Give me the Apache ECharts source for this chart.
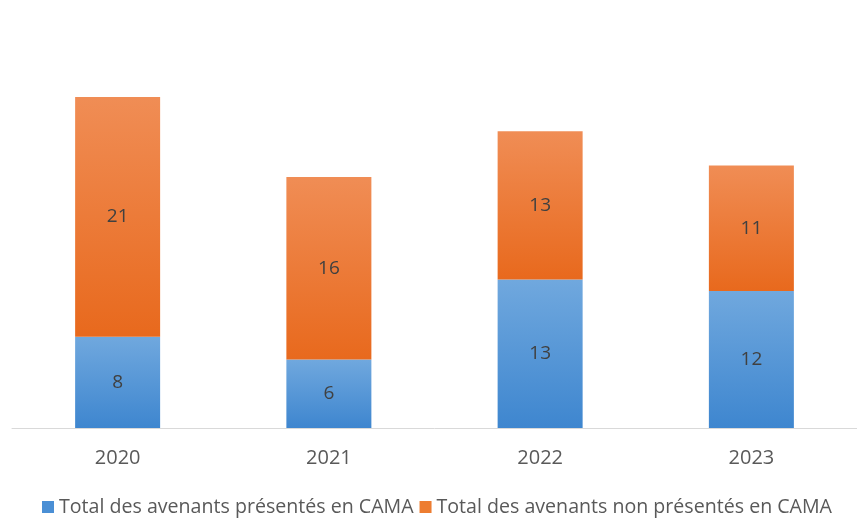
<!DOCTYPE html>
<html>
<head>
<meta charset="utf-8">
<script src="https://cdn.jsdelivr.net/npm/echarts@6/dist/echarts.min.js"></script>
<style>
html, body { margin: 0; padding: 0; background: #fff; }
#main { width: 857px; height: 519px; }
</style>
</head>
<body>
<div id="main"></div>
<script>
var years = ['2020', '2021', '2022', '2023'];
var presentes = [8, 6, 13, 12];
var nonPresentes = [21, 16, 13, 11];
var seriesNames = ['Total des avenants présentés en CAMA', 'Total des avenants non présentés en CAMA'];

var chart = echarts.init(document.getElementById('main'));

function grad(top, bottom) {
	return new echarts.graphic.LinearGradient(0, 0, 0, 1, [
		{ offset: 0, color: top },
		{ offset: 1, color: bottom }
	]);
}

var labelStyle = {
	show: true,
	position: 'inside',
	color: '#404040',
	fontSize: 19,
	fontFamily: 'Open Sans'
};

var option = {
	animation: false,
	textStyle: { fontFamily: 'Open Sans' },
	grid: { left: 12, right: -5, top: 97, bottom: 91 },
	legend: {
		bottom: -3,
		left: 37,
		itemWidth: 12,
		itemHeight: 12,
		itemGap: 6,
		icon: 'rect',
		textStyle: { fontSize: 19.6, color: '#595959', fontFamily: 'Open Sans' },
		data: [
			{ name: seriesNames[0], itemStyle: { color: '#4a8fd5' } },
			{ name: seriesNames[1], itemStyle: { color: '#ed7d31' } }
		]
	},
	xAxis: {
		type: 'category',
		data: years,
		axisLine: { lineStyle: { color: '#d9d9d9', width: 1 } },
		axisTick: { show: false },
		axisLabel: { color: '#595959', fontSize: 20, margin: 20 }
	},
	yAxis: {
		type: 'value',
		min: 0,
		max: 29,
		show: false,
		splitLine: { show: false }
	},
	series: [
		{
			name: seriesNames[0],
			type: 'bar',
			stack: 'total',
			barWidth: 85,
			data: presentes,
			itemStyle: { color: grad('#70a8de', '#3e86cf') },
			label: labelStyle
		},
		{
			name: seriesNames[1],
			type: 'bar',
			stack: 'total',
			barWidth: 85,
			data: nonPresentes,
			itemStyle: { color: grad('#f08d55', '#e8691d') },
			label: labelStyle
		}
	]
};

chart.setOption(option);
</script>
</body>
</html>
